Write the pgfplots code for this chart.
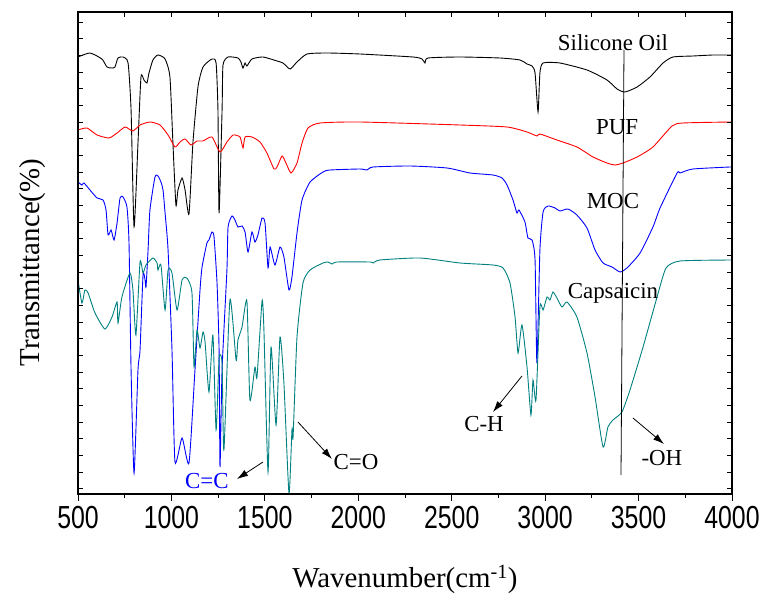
\documentclass[border=0pt]{standalone}
\usepackage{fontspec}
\setmainfont{Liberation Serif}
\newfontfamily\tickfont[FakeStretch=0.78]{Liberation Sans}
\usepackage{pgfplots}
\pgfplotsset{compat=1.18}
\usetikzlibrary{arrows.meta}
\definecolor{capteal}{RGB}{0,128,128}
\begin{document}
\begin{tikzpicture}
\begin{axis}[
    at={(0,0)}, anchor=south west,
    scale only axis, width=654bp, height=482bp,
    xmin=500, xmax=4000, ymin=6, ymax=488,
    xtick={500,1000,...,4000},
    minor xtick={750,1250,...,3750},
    xtick pos=bottom, ytick=\empty,
    tick align=outside,
    major tick length=7bp, minor tick length=4bp,
    tick style={black, line width=1bp},
    axis line style={line width=1.3bp},
    /pgf/number format/1000 sep={},
    /pgf/number format/assume math mode=true,
    xticklabel style={font=\tickfont\fontsize{32}{36}\selectfont, yshift=-2bp},
    xlabel={Wavenumber(cm\textsuperscript{-1})},
    ylabel={Transmittance(\%)},
    label style={font=\fontsize{29}{32}\selectfont},
    xlabel style={at={(axis description cs:0.5,-0.178)}, anchor=center},
    ylabel style={at={(axis description cs:-0.07,0.48)}, anchor=center},
    every axis plot/.append style={line width=0.9bp, smooth, tension=0.35},
    clip=true,
]
% Silicone Oil
\addplot[black] coordinates {
(500,443) (564,447) (628,441) (655,433) (682,432) (698,433) (714,442) (741,443) (768,437)
(784,390) (800,273) (821,357) (837,423) (853,420) (869,417) (880,427) (901,440) (928,445)
(966,441) (992,423) (1008,357) (1024,295) (1035,310) (1057,322) (1073,310) (1094,286)
(1115,357) (1142,413) (1169,433) (1217,441) (1239,437) (1249,390) (1255,287) (1271,390)
(1276,435) (1303,443) (1356,442) (1372,438) (1383,432) (1394,437) (1404,434) (1431,441)
(1490,443) (1565,439) (1597,437) (1635,431) (1672,438) (1726,446) (1833,447) (2009,446)
(2293,443) (2341,441) (2357,437) (2373,442) (2544,443) (2758,442) (2866,440) (2903,436)
(2930,434) (2946,427) (2962,388) (2972,427) (2989,437) (3079,437) (3224,430) (3331,420)
(3385,411) (3427,408) (3492,413) (3561,423) (3631,437) (3684,443) (3791,444) (3900,445) (4000,445)
};
% PUF
\addplot[red] coordinates {
(500,370) (548,372) (602,365) (666,362) (709,367) (752,373) (794,369) (832,375) (885,378)
(939,375) (982,365) (1019,353) (1046,358) (1073,361) (1105,355) (1137,359) (1169,359)
(1217,363) (1260,348) (1297,358) (1330,365) (1367,363) (1383,352) (1394,363) (1431,363)
(1474,358) (1511,347) (1549,331) (1565,333) (1592,344) (1613,337) (1640,327) (1672,337)
(1699,357) (1731,372) (1795,377) (2009,378) (2544,375) (2796,373) (2903,368) (2956,364)
(2972,366) (3063,360) (3170,353) (3256,343) (3331,337) (3374,335) (3417,337) (3492,343)
(3577,353) (3679,374) (3738,377) (3989,378) (4000,378)
};
% MOC
\addplot[blue] coordinates {
(500,318) (521,315) (532,317) (564,310) (602,302) (634,300) (650,290) (661,265) (677,270)
(693,260) (709,277) (725,302) (741,303) (762,293) (773,257) (784,130) (800,27) (821,130)
(832,150) (848,225) (859,220) (864,213) (875,250) (885,290) (912,323) (928,324) (944,318)
(955,310) (966,287) (982,250) (1003,150) (1019,38) (1057,62) (1094,37) (1126,130)
(1153,210) (1164,233) (1190,257) (1201,260) (1217,268) (1228,263) (1244,217) (1255,150)
(1260,33) (1271,130) (1297,230) (1303,273) (1324,284) (1340,280) (1356,273) (1378,274)
(1394,268) (1410,248) (1431,268) (1447,258) (1463,265) (1485,282) (1501,277) (1517,232)
(1528,253) (1554,235) (1581,253) (1602,243) (1629,210) (1645,223) (1672,267) (1699,300)
(1742,318) (1811,328) (1849,330) (2009,331) (2047,330) (2079,333) (2277,334) (2475,332)
(2598,327) (2721,325) (2769,322) (2796,315) (2828,300) (2849,287) (2860,290) (2892,278)
(2908,262) (2930,260) (2946,240) (2956,137) (2972,250) (2989,288) (3015,294) (3053,292)
(3079,289) (3122,291) (3170,285) (3224,272) (3267,250) (3310,237) (3358,233) (3401,228)
(3438,232) (3508,247) (3577,273) (3615,292) (3706,327) (3722,327) (3791,331) (3989,333) (4000,333)
};
% Capsaicin
\addplot[capteal] coordinates {
(500,220) (521,197) (537,210) (554,207) (591,187) (644,171) (682,183) (709,198) (714,177)
(735,203) (778,227) (794,210) (810,165) (832,238) (848,227) (864,235) (901,242) (923,237)
(928,230) (944,235) (966,190) (982,230) (1003,227) (1030,190) (1057,220) (1083,222)
(1110,207) (1121,133) (1137,170) (1153,152) (1169,168) (1180,158) (1201,108) (1222,165)
(1239,70) (1255,142) (1271,137) (1281,50) (1313,200) (1346,140) (1356,160) (1378,173)
(1404,199) (1420,100) (1447,133) (1458,123) (1485,199) (1495,170) (1517,28) (1533,153)
(1560,75) (1581,163) (1602,117) (1629,7) (1645,70) (1651,63) (1672,163) (1704,217)
(1742,230) (1811,237) (1838,238) (1859,236) (1886,238) (2063,238) (2079,237) (2116,240)
(2330,242) (2544,237) (2721,235) (2775,232) (2812,217) (2839,183) (2855,147) (2876,175)
(2903,133) (2924,85) (2935,120) (2951,100) (2972,193) (2989,190) (3010,203) (3026,200)
(3042,208) (3063,202) (3090,193) (3117,198) (3170,183) (3224,147) (3267,103) (3310,53)
(3336,73) (3363,80) (3411,88) (3454,110) (3524,153) (3599,203) (3647,232) (3722,239)
(3989,240) (4000,240)
};
% -OH marker line
\addplot[black, line width=0.8bp, sharp plot] coordinates {(3422,450) (3406,25)};
\node[font=\fontsize{23}{26}\selectfont] at (axis cs:3363,457) {Silicone Oil};
\node[font=\fontsize{23}{26}\selectfont] at (axis cs:3385,373) {PUF};
\node[font=\fontsize{23}{26}\selectfont] at (axis cs:3363,299) {MOC};
\node[font=\fontsize{23}{26}\selectfont] at (axis cs:3363,207) {Capsaicin};
\node[font=\fontsize{23}{26}\selectfont, text=blue] at (axis cs:1190,19) {C=C};
\node[font=\fontsize{23}{26}\selectfont] at (axis cs:1988,38) {C=O};
\node[font=\fontsize{23}{26}\selectfont] at (axis cs:2673,76) {C-H};
\node[font=\fontsize{23}{26}\selectfont] at (axis cs:3625,42) {-OH};
\draw[-{Latex[length=11bp,width=7bp]}, line width=0.8bp] (axis cs:1490,38) -- (axis cs:1351,21);
\draw[-{Latex[length=11bp,width=7bp]}, line width=0.8bp] (axis cs:1677,78) -- (axis cs:1859,41);
\draw[-{Latex[length=11bp,width=7bp]}, line width=0.8bp] (axis cs:2876,124) -- (axis cs:2721,88);
\draw[-{Latex[length=11bp,width=7bp]}, line width=0.8bp] (axis cs:3470,82) -- (axis cs:3636,56);
\end{axis}
% inward ticks on top and sides
\begin{axis}[
    at={(0,0)}, anchor=south west,
    scale only axis, width=654bp, height=482bp,
    xmin=500, xmax=4000, ymin=6, ymax=488,
    xtick={500,750,...,4000}, xticklabels={}, xtick pos=top,
    ytick={11,27.667,...,478}, yticklabels={}, ytick pos=both,
    tick align=inside, major tick length=5bp,
    tick style={black, line width=1bp},
    axis line style={line width=1.3bp},
]
\end{axis}
\pgfresetboundingbox
\path (-78bp,-105bp) rectangle (686bp,494bp);
\end{tikzpicture}
\end{document}
